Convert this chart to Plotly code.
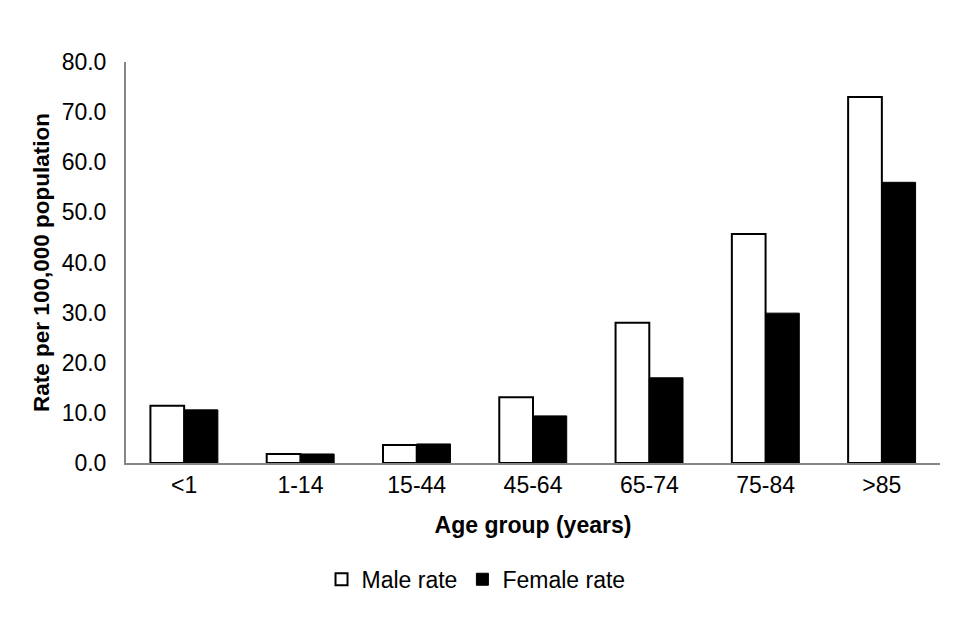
import plotly.graph_objects as go

categories = ["<1", "1-14", "15-44", "45-64", "65-74", "75-84", ">85"]
male_rate = [11.4, 1.8, 3.6, 13.1, 28.0, 45.7, 73.0]
female_rate = [10.6, 1.8, 3.8, 9.4, 17.0, 29.9, 56.0]
y_ticks = [0, 10, 20, 30, 40, 50, 60, 70, 80]

fig = go.Figure()
fig.add_trace(go.Bar(
    x=categories, y=male_rate, name="Male rate",
    marker=dict(color="white", line=dict(color="black", width=2)),
))
fig.add_trace(go.Bar(
    x=categories, y=female_rate, name="Female rate",
    marker=dict(color="black", line=dict(color="black", width=1)),
))

font = "Liberation Sans, Arial, sans-serif"
fig.update_layout(
    width=960, height=640,
    margin=dict(l=118, r=28, t=54, b=185),
    paper_bgcolor="white", plot_bgcolor="white",
    barmode="group", bargap=0.42, bargroupgap=0,
    font=dict(family=font, size=23, color="black"),
    showlegend=True,
    legend=dict(orientation="h", x=0.43, xanchor="center", y=-0.29, yanchor="middle",
                font=dict(size=23), itemwidth=30, traceorder="normal"),
    xaxis=dict(
        showline=True, linecolor="#868686", linewidth=2,
        ticks="", showgrid=False, automargin=False,
        title=dict(text="<b>Age group (years)</b>", font=dict(size=23), standoff=20),
        tickfont=dict(size=23),
    ),
    yaxis=dict(
        range=[0, 80], tickvals=y_ticks, tickformat=".1f",
        showline=True, linecolor="#868686", linewidth=2,
        ticks="", showgrid=False, zeroline=False, automargin=False,
        title=dict(text="<b>Rate per 100,000 population</b>", font=dict(size=22.5), standoff=6),
        tickfont=dict(size=23), ticklabelstandoff=13,
    ),
)
fig.write_html("out.html")
